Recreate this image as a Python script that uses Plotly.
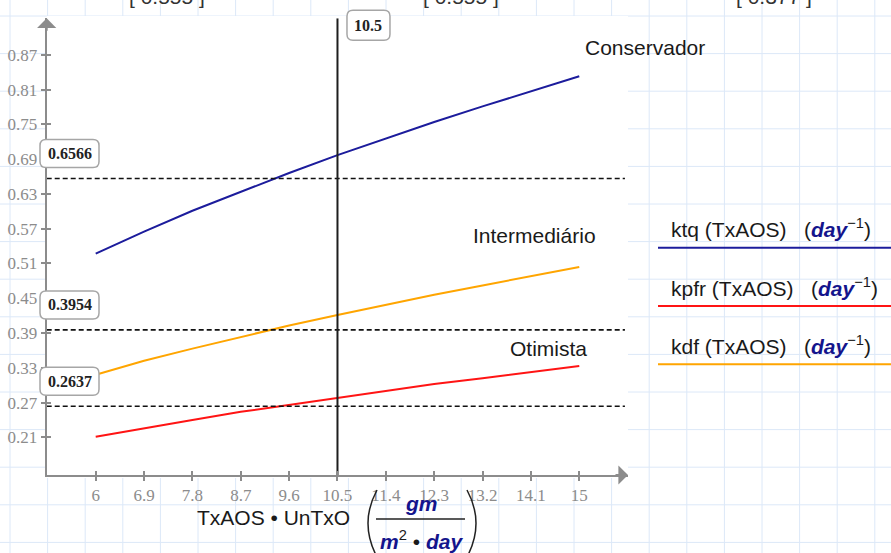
import plotly.graph_objects as go

# ---- data -------------------------------------------------------------
tx_aos = [6, 6.9, 7.8, 8.7, 9.6, 10.5, 11.4, 12.3, 13.2, 14.1, 15]
ktq = [0.527, 0.565, 0.601, 0.634, 0.666, 0.697, 0.726, 0.754, 0.781, 0.807, 0.833]
kdf = [0.318, 0.342, 0.363, 0.383, 0.403, 0.421, 0.439, 0.456, 0.472, 0.488, 0.504]
kpfr = [0.211, 0.226, 0.240, 0.254, 0.266, 0.279, 0.290, 0.302, 0.312, 0.323, 0.333]

ref_levels = [0.6566, 0.3954, 0.2637]
tx_marker = 10.5

x_ticks = [6, 6.9, 7.8, 8.7, 9.6, 10.5, 11.4, 12.3, 13.2, 14.1, 15]
x_ticktext = ["6", "6.9", "7.8", "8.7", "9.6", "10.5", "11.4", "12.3", "13.2", "14.1", "15"]
y_ticks = [0.21, 0.27, 0.33, 0.39, 0.45, 0.51, 0.57, 0.63, 0.69, 0.75, 0.81, 0.87]
y_ticktext = ["0.21", "0.27", "0.33", "0.39", "0.45", "0.51", "0.57", "0.63", "0.69", "0.75", "0.81", "0.87"]

curve_labels = ["Conservador", "Intermediário", "Otimista"]
legend_names = ["ktq", "kpfr", "kdf"]
header_values = ["0.555", "0.555", "0.377"]

# ---- geometry / style -------------------------------------------------
W, H = 891, 553
X_RANGE = [5.088, 15.907]
Y_RANGE = [0.145, 0.933]
DASH_END = 15.85
PLOT_LEFT_PX, PLOT_TOP_PX = 46.7, 18.3

BLUE = "#1c1c9c"
RED = "#ff1414"
ORANGE = "#ffa500"
NAVY = "#14148c"
AXIS_GREY = "#8c8c8c"
GRID_BLUE = "#dce8f8"
TICK_FONT = dict(family="Liberation Serif", size=17, color=AXIS_GREY)
BOX_FONT = dict(family="Liberation Serif", size=16, color="#222222")
SANS = "Liberation Sans"
SP = "&nbsp;"


def px(x):
    return x / W


def py(y):
    return 1 - y / H


def rounded_path(cx, cy, w, h, r):
    l, rt = cx - w / 2, cx + w / 2
    b, t = cy - h / 2, cy + h / 2
    return (f"M{l + r},{b} L{rt - r},{b} Q{rt},{b} {rt},{b + r} "
            f"L{rt},{t - r} Q{rt},{t} {rt - r},{t} L{l + r},{t} "
            f"Q{l},{t} {l},{t - r} L{l},{b + r} Q{l},{b} {l + r},{b} Z")


fig = go.Figure()

# curves
for ys, color in [(ktq, BLUE), (kdf, ORANGE), (kpfr, RED)]:
    fig.add_trace(go.Scatter(x=tx_aos, y=ys, mode="lines",
                             line=dict(color=color, width=2),
                             showlegend=False, hoverinfo="skip"))

# horizontal reference levels
for v in ref_levels:
    fig.add_trace(go.Scatter(x=[X_RANGE[0], DASH_END], y=[v, v], mode="lines",
                             line=dict(color="#111111", width=1.6, dash="5px,3px"),
                             showlegend=False, hoverinfo="skip"))

# vertical marker
fig.add_trace(go.Scatter(x=[tx_marker, tx_marker], y=Y_RANGE, mode="lines",
                         line=dict(color="#1e1e1e", width=2),
                         showlegend=False, hoverinfo="skip"))

# empty trace on the overlay axes (inner half of the cross ticks)
fig.add_trace(go.Scatter(x=[], y=[], xaxis="x2", yaxis="y2",
                         showlegend=False, hoverinfo="skip"))

shapes = []
# worksheet grid
gx = 10.0
while gx < W:
    shapes.append(dict(type="line", xref="paper", yref="paper",
                       x0=px(gx), x1=px(gx), y0=0, y1=1,
                       line=dict(color=GRID_BLUE, width=1), layer="below"))
    gx += 37.6
gy = 16.0
while gy < H:
    shapes.append(dict(type="line", xref="paper", yref="paper",
                       x0=0, x1=1, y0=py(gy), y1=py(gy),
                       line=dict(color=GRID_BLUE, width=1), layer="below"))
    gy += 37.6
# white plot region
shapes.append(dict(type="rect", xref="paper", yref="paper",
                   x0=px(PLOT_LEFT_PX), x1=px(628), y0=py(478), y1=py(16),
                   fillcolor="white", line=dict(width=0), layer="below"))

# rounded value boxes (pixel sized, anchored to the level / marker)
for v in ref_levels:
    shapes.append(dict(type="path", xref="paper", yref="y",
                       xsizemode="pixel", ysizemode="pixel",
                       xanchor=px(PLOT_LEFT_PX), yanchor=v,
                       path=rounded_path(22.8, 25, 59, 28, 6),
                       fillcolor="white", line=dict(color="#a6a6a6", width=1.5),
                       layer="above"))
shapes.append(dict(type="path", xref="x", yref="paper",
                   xsizemode="pixel", ysizemode="pixel",
                   xanchor=tx_marker, yanchor=py(PLOT_TOP_PX),
                   path=rounded_path(31, -7, 43, 30, 6),
                   fillcolor="white", line=dict(color="#a6a6a6", width=1.5),
                   layer="above"))

# legend sample lines
for yy, color in [(247.7, BLUE), (306, RED), (364.3, ORANGE)]:
    shapes.append(dict(type="line", xref="paper", yref="paper",
                       x0=px(658), x1=1, y0=py(yy), y1=py(yy),
                       line=dict(color=color, width=2)))

# unit fraction: parentheses and bar
shapes.append(dict(type="path", xref="paper", yref="paper",
                   path=f"M{px(377)},{py(490)} Q{px(359)},{py(523)} {px(377)},{py(557)}",
                   line=dict(color="#222222", width=1.5)))
shapes.append(dict(type="path", xref="paper", yref="paper",
                   path=f"M{px(467)},{py(490)} Q{px(485)},{py(523)} {px(467)},{py(557)}",
                   line=dict(color="#222222", width=1.5)))
shapes.append(dict(type="line", xref="paper", yref="paper",
                   x0=px(376), x1=px(465), y0=py(519), y1=py(519),
                   line=dict(color="#222222", width=1.3)))

annotations = []
# axis arrowheads
annotations.append(dict(x=X_RANGE[1], y=Y_RANGE[0], xref="x", yref="y",
                        ax=-14, ay=0, showarrow=True, arrowhead=1,
                        arrowsize=1.6, arrowwidth=2, arrowcolor=AXIS_GREY, text=""))
annotations.append(dict(x=X_RANGE[0], y=Y_RANGE[1], xref="x", yref="y",
                        ax=0, ay=14, showarrow=True, arrowhead=1,
                        arrowsize=1.6, arrowwidth=2, arrowcolor=AXIS_GREY, text=""))

# value box texts
for v in ref_levels:
    annotations.append(dict(x=X_RANGE[0], y=v, xref="x", yref="y",
                            xanchor="center", yanchor="middle",
                            xshift=22.8, yshift=25, showarrow=False,
                            text=f"<b>{v}</b>", font=BOX_FONT))
annotations.append(dict(x=tx_marker, y=Y_RANGE[1], xref="x", yref="y",
                        xanchor="center", yanchor="middle",
                        xshift=31, yshift=-7, showarrow=False,
                        text=f"<b>{tx_marker}</b>", font=BOX_FONT))

# curve labels
for text, (lx, ly) in zip(curve_labels, [(15.07, 0.882), (12.99, 0.5575), (13.68, 0.3636)]):
    annotations.append(dict(x=lx, y=ly, xref="x", yref="y",
                            xanchor="left", yanchor="middle",
                            showarrow=False, text=text,
                            font=dict(family=SANS, size=21, color="#1a1a1a")))

# legend texts
for name, yy in zip(legend_names, [228.3, 286.7, 345]):
    annotations.append(dict(
        x=px(669), y=py(yy), xref="paper", yref="paper",
        xanchor="left", yanchor="middle", showarrow=False,
        text=(f"{name}{SP}(TxAOS){SP}{SP}{SP}(<span style='color:{NAVY}'><b><i>day</i></b></span>"
              f"<sup>−1</sup>)"),
        font=dict(family=SANS, size=21, color="#1a1a1a")))

# x-axis title with units
annotations.append(dict(x=px(273.3), y=py(517), xref="paper", yref="paper",
                        xanchor="center", yanchor="middle",
                        showarrow=False, text="TxAOS • UnTxO",
                        font=dict(family=SANS, size=21, color="#1a1a1a")))
annotations.append(dict(x=px(421), y=py(503), xref="paper", yref="paper",
                        xanchor="center", yanchor="middle", showarrow=False,
                        text="<b><i>gm</i></b>",
                        font=dict(family=SANS, size=21, color=NAVY)))
annotations.append(dict(x=px(421.5), y=py(540), xref="paper", yref="paper",
                        xanchor="center", yanchor="middle", showarrow=False,
                        text=(f"<span style='color:{NAVY}'><b><i>m</i></b></span><sup>2</sup>"
                              f" • <span style='color:{NAVY}'><b><i>day</i></b></span>"),
                        font=dict(family=SANS, size=21, color="#1a1a1a")))

# worksheet values above the plot (mostly cut off by the page top)
for val, cx in zip(header_values, [166.5, 460.5, 773.5]):
    annotations.append(dict(x=px(cx), y=py(-4), xref="paper", yref="paper",
                            xanchor="center", yanchor="middle",
                            showarrow=False, text=f"[ {val} ]",
                            font=dict(family=SANS, size=21, color="#333333")))

fig.update_layout(
    width=W, height=H, autosize=False,
    margin=dict(l=0, r=0, t=0, b=0),
    paper_bgcolor="white", plot_bgcolor="rgba(0,0,0,0)",
    showlegend=False,
    xaxis=dict(domain=[px(PLOT_LEFT_PX), px(628)], range=X_RANGE, anchor="y",
               tickmode="array", tickvals=x_ticks, ticktext=x_ticktext,
               showline=True, linecolor=AXIS_GREY, linewidth=2,
               ticks="outside", ticklen=4, tickwidth=1.5, tickcolor=AXIS_GREY,
               showgrid=False, zeroline=False, tickfont=TICK_FONT),
    yaxis=dict(domain=[py(475), py(PLOT_TOP_PX)], range=Y_RANGE, anchor="x",
               tickmode="array", tickvals=y_ticks, ticktext=y_ticktext,
               showline=True, linecolor=AXIS_GREY, linewidth=2,
               ticks="outside", ticklen=4, tickwidth=1.5, tickcolor=AXIS_GREY,
               showgrid=False, zeroline=False, tickfont=TICK_FONT),
    xaxis2=dict(overlaying="x", anchor="y", side="bottom", range=X_RANGE,
                tickmode="array", tickvals=x_ticks, showticklabels=False,
                ticks="inside", ticklen=4, tickwidth=1.5, tickcolor=AXIS_GREY,
                showline=False, showgrid=False, zeroline=False),
    yaxis2=dict(overlaying="y", anchor="x", side="left", range=Y_RANGE,
                tickmode="array", tickvals=y_ticks, showticklabels=False,
                ticks="inside", ticklen=4, tickwidth=1.5, tickcolor=AXIS_GREY,
                showline=False, showgrid=False, zeroline=False),
    shapes=shapes,
    annotations=annotations,
)

fig.write_html("out.html")
